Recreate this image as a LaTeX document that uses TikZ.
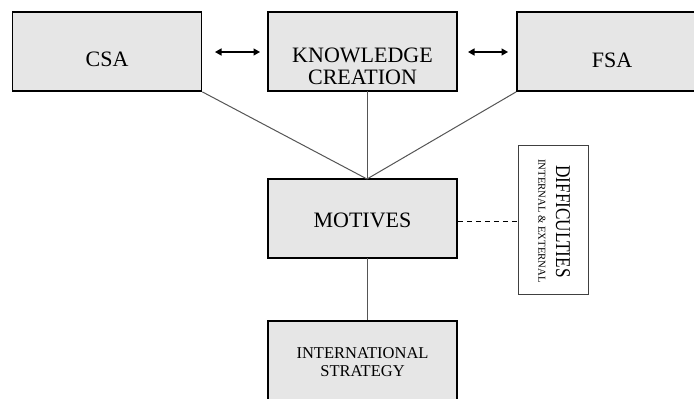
\documentclass[tikz,border=0pt]{standalone}
\usepackage{fontspec}
\setmainfont{Liberation Serif}
\usetikzlibrary{arrows.meta}
\definecolor{boxgray}{HTML}{E6E6E6}
\definecolor{linegray}{HTML}{555555}
\tikzset{
  gbox/.style={draw=black, line width=1.8pt, fill=boxgray, inner sep=0pt, minimum width=189pt},
  wbox/.style={draw=black!75, line width=0.9pt, fill=white, inner sep=0pt},
  big/.style={font=\fontsize{22}{22}\selectfont, inner sep=0pt, align=center},
  mid/.style={font=\fontsize{16.5}{17.5}\selectfont, inner sep=0pt, align=center},
  conn/.style={draw=linegray, line width=1pt},
  dbl/.style={line width=1.3pt, {Triangle[length=6.5pt,width=7pt]}-{Triangle[length=6.5pt,width=7pt]}},
}
\begin{document}
\begin{tikzpicture}[x=1pt,y=-1pt]
\clip (0,0) rectangle (694,399);
\fill[white] (0,0) rectangle (694,399);
% boxes
\node[gbox, minimum height=79pt] (csa) at (107,51.5) {};
\node[gbox, minimum height=79pt] (kc) at (362.5,51.5) {};
\node[gbox, minimum height=79pt] (fsa) at (611.5,51.5) {};
\node[gbox, minimum height=79pt] (mot) at (362.5,218.5) {};
\node[gbox, minimum height=90pt] (is) at (362.5,366) {};
\node[wbox, minimum width=70pt, minimum height=149pt] (dif) at (553,219.5) {};
% texts
\node[big] (csaT) at (107,59.5) {CSA};
\node[big] (kcT) at (362.5,66.5) {KNOWLEDGE\\CREATION};
\node[big] (fsaT) at (612,60) {FSA};
\node[big] (motT) at (362.5,220) {MOTIVES};
\node[mid] (isT) at (362.5,362) {INTERNATIONAL\\STRATEGY};
\node[inner sep=0pt, rotate=-90] (difT1) at (563,221.5) {\scalebox{0.82}[1]{\fontsize{21}{21}\selectfont DIFFICULTIES}};
\node[inner sep=0pt, rotate=-90] (difT2) at (542,221) {\fontsize{10.7}{11}\selectfont INTERNAL \& EXTERNAL};
% connector points
\coordinate (mtop) at (367,179);
\coordinate (kbot) at (367,91);
\coordinate (mbot) at (367,258);
\coordinate (istop) at (367,320);
\coordinate (a1) at (215,52);
\coordinate (a2) at (260,52);
\coordinate (b1) at (468,52);
\coordinate (b2) at (508,52);
% connectors
\draw[conn] (csa.south east) -- (mtop);
\draw[conn] (fsa.south west) -- (mtop);
\draw[conn] (kbot) -- (mtop);
\draw[conn] (mbot) -- (istop);
\draw[conn, draw=black, dashed, dash pattern=on 5pt off 4pt] (mot.east |- 0,221) -- (dif.west |- 0,221);
\draw[dbl] (a1) -- (a2);
\draw[dbl] (b1) -- (b2);
\end{tikzpicture}
\end{document}
